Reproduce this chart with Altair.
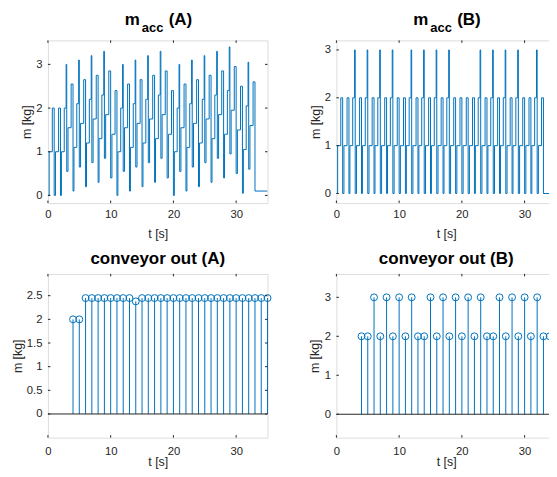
import altair as alt
import pandas as pd

# ---------------- data ----------------
T_DOMAIN = [0, 35]
X_TICKS = [0, 10, 20, 30]

# accumulator (A): levels inside each 1-s interval [k, k+1)
ACC_A_LEVELS = [
    [0, 1, 2], [0, 1, 2], [0, 1, 2, 3], [0.55, 1.55, 2.55], [0.1, 1.1, 2.1, 3.1],
    [0.65, 1.65, 2.65], [0.2, 1.2, 2.2, 3.2], [0.75, 1.75, 2.75], [0.3, 1.3, 2.3, 3.3],
    [0.85, 1.85, 2.85], [0.4, 1.4, 2.4], [0, 1, 2, 3], [0.55, 1.55, 2.55],
    [0.1, 1.1, 2.1, 3.1], [0.65, 1.65, 2.65], [0.2, 1.2, 2.2, 3.2], [0.75, 1.75, 2.75],
    [0.3, 1.3, 2.3, 3.3], [0.85, 1.85, 2.85], [0.4, 1.4, 2.4], [0, 1, 2, 3],
    [0.55, 1.55, 2.55], [0.1, 1.1, 2.1, 3.1], [0.65, 1.65, 2.65], [0.2, 1.2, 2.2, 3.2],
    [0.75, 1.75, 2.75], [0.3, 1.3, 2.3, 3.3], [0.85, 1.85, 2.85], [0.4, 1.4, 2.4, 3.4],
    [0.95, 1.95, 2.95], [0.5, 1.5, 2.5], [0.05, 1.05, 2.05, 3.05], [0.6, 1.6, 2.6],
]
ACC_A_TAIL = 0.1

# accumulator (B): levels inside each 1-s interval
ACC_B_LEVELS = [
    [0, 1, 2], [0, 1, 2], [0, 1, 2, 3], [0, 1, 2], [0, 1, 2, 3], [0, 1, 2],
    [0, 1, 2, 3], [0, 1, 2], [0, 1, 2, 3], [0, 1, 2], [0, 1, 2], [0, 1, 2, 3],
    [0, 1, 2], [0, 1, 2, 3], [0, 1, 2], [0, 1, 2, 3], [0, 1, 2], [0, 1, 2, 3],
    [0, 1, 2], [0, 1, 2], [0, 1, 2], [0, 1, 2], [0, 1, 2, 3], [0, 1, 2],
    [0, 1, 2, 3], [0, 1, 2], [0, 1, 2, 3], [0, 1, 2], [0, 1, 2, 3], [0, 1, 2],
    [0, 1, 2], [0, 1, 2, 3], [0, 1, 2],
]
ACC_B_TAIL = 0

# arrival instants inside a second (2 or 3 items)
STEP_OFFSETS_2 = [0.0, 0.2, 0.7]
STEP_OFFSETS_3 = [0.0, 0.15, 0.6, 0.9]

CONV_T = [4, 5, 6, 7, 8, 9, 10, 11, 12, 13, 14, 15, 16, 17, 18, 19, 20, 21, 22, 23,
          24, 25, 26, 27, 28, 29, 30, 31, 32, 33, 34, 35]
CONV_A = [2, 2, 2.45, 2.45, 2.45, 2.45, 2.45, 2.45, 2.45, 2.45, 2.38, 2.45, 2.45, 2.45,
          2.45, 2.45, 2.45, 2.45, 2.45, 2.45, 2.45, 2.45, 2.45, 2.45, 2.45, 2.45, 2.45,
          2.45, 2.45, 2.45, 2.45, 2.45]
CONV_B = [2, 2, 3, 2, 3, 2, 3, 2, 3, 2, 2, 3, 2, 3, 2, 3, 2, 3, 2, 3, 2, 2, 3, 2, 3, 2,
          3, 2, 3, 2, 2, 3]

Y_TICKS_ACC = [0, 1, 2, 3]
Y_TICKS_CONV_A = [0, 0.5, 1, 1.5, 2, 2.5]
Y_TICKS_CONV_B = [0, 1, 2, 3]

# ---------------- styling ----------------
BLUE = "#0072BD"
AX = "#262626"
FONT = "Liberation Sans"
W = 220
H_TOP = 163
H_BOT = 164
TICK_LEN = 2.5


def step_table(levels_per_second, tail):
    rows = []
    for k, levels in enumerate(levels_per_second):
        offs = STEP_OFFSETS_2 if len(levels) == 3 else STEP_OFFSETS_3
        for off, v in zip(offs, levels):
            rows.append({"t": k + off, "m": v})
    end = len(levels_per_second)
    rows.append({"t": end, "m": tail})
    rows.append({"t": T_DOMAIN[1], "m": tail})
    return pd.DataFrame(rows)


def axes(H, yticks, yfmt, ytitle_x, xlab_pad, xtitle_y):
    xa = alt.Axis(values=X_TICKS, title="t [s]", grid=False, domain=False, ticks=False,
                  tickSize=0, labelFont=FONT, labelFontSize=11.3, labelColor=AX,
                  labelPadding=xlab_pad, labelFlush=False, titleFont=FONT,
                  titleFontSize=12.4, titleFontWeight="normal", titleColor=AX,
                  titleX=W / 2, titleY=xtitle_y, titleBaseline="alphabetic")
    ya = alt.Axis(values=yticks, format=yfmt, title="m [kg]", grid=False, domain=False,
                  ticks=False, tickSize=0, labelFont=FONT, labelFontSize=11.3,
                  labelColor=AX, labelPadding=6, labelFlush=False, titleFont=FONT,
                  titleFontSize=12.4, titleFontWeight="normal", titleColor=AX,
                  titleX=ytitle_x, titleY=H / 2, titleAngle=270, titleBaseline="middle")
    return xa, ya


def tick_layers(H, yticks, xs, ys, xa, ya):
    dx = pd.DataFrame({"t": X_TICKS})
    dy = pd.DataFrame({"m": yticks})
    base_x = alt.Chart(dx).mark_rule(color=AX, strokeWidth=1)
    base_y = alt.Chart(dy).mark_rule(color=AX, strokeWidth=1)
    xe = alt.X("t:Q", scale=xs, axis=xa)
    ye = alt.Y("m:Q", scale=ys, axis=ya)
    return [
        base_x.encode(x=xe, y=alt.value(H), y2=alt.value(H - TICK_LEN)),
        base_x.encode(x=xe, y=alt.value(0), y2=alt.value(TICK_LEN)),
        base_y.encode(y=ye, x=alt.value(0), x2=alt.value(TICK_LEN)),
        base_y.encode(y=ye, x=alt.value(W), x2=alt.value(W - TICK_LEN)),
    ]


def text_layer(txt, x, y, size, align="left"):
    return alt.Chart(pd.DataFrame({"s": [txt]})).mark_text(
        font=FONT, fontSize=size, fontWeight="bold", color="#000000", align=align,
        baseline="alphabetic").encode(text="s:N", x=alt.value(x), y=alt.value(y))


def anchor_layer(x, y):
    # invisible 1px rule that pins an outer corner of the figure bounds
    return alt.Chart(pd.DataFrame({"a": [0]})).mark_rule(opacity=0, strokeWidth=1).encode(
        x=alt.value(x), x2=alt.value(x), y=alt.value(y), y2=alt.value(y + 1))


def acc_title(letter):
    return [text_layer("m", 77, -15, 17), text_layer("acc", 94, -8.8, 13),
            text_layer("(" + letter + ")", 121, -15, 17)]


def acc_panel(levels, tail, ydom, ytitle_x, letter, extra=()):
    xs = alt.Scale(domain=T_DOMAIN, nice=False, zero=False)
    ys = alt.Scale(domain=ydom, nice=False, zero=False)
    xa, ya = axes(H_TOP, Y_TICKS_ACC, "~g", ytitle_x, 5, 34)
    line = alt.Chart(step_table(levels, tail)).mark_line(
        interpolate="step-after", color=BLUE, strokeWidth=1, clip=True).encode(
        x=alt.X("t:Q", scale=xs, axis=xa), y=alt.Y("m:Q", scale=ys, axis=ya))
    return alt.layer(line, *tick_layers(H_TOP, Y_TICKS_ACC, xs, ys, xa, ya),
                     *acc_title(letter), *extra).properties(width=W, height=H_TOP)


def conv_panel(values, ydom, yticks, ytitle_x, letter, clip_pts=False, extra=()):
    xs = alt.Scale(domain=T_DOMAIN, nice=False, zero=False)
    ys = alt.Scale(domain=ydom, nice=False, zero=False)
    xa, ya = axes(H_BOT, yticks, "~g", ytitle_x, 8, 27.5)
    df = pd.DataFrame({"t": CONV_T, "m": values})
    xe = alt.X("t:Q", scale=xs, axis=xa)
    ye = alt.Y("m:Q", scale=ys, axis=ya)
    stems = alt.Chart(df).mark_rule(color=BLUE, strokeWidth=1).encode(
        x=xe, y=ye, y2=alt.datum(0))
    baseline = alt.Chart(pd.DataFrame({"m": [0]})).mark_rule(
        color=AX, strokeWidth=1).encode(y=ye)
    pts = alt.Chart(df).mark_point(shape="circle", filled=False, color=BLUE, size=48,
                                   strokeWidth=1, opacity=1, clip=clip_pts).encode(
        x=xe, y=ye)
    title = text_layer("conveyor out (" + letter + ")", W / 2, -9.5, 17, align="center")
    return alt.layer(stems, baseline, pts, *tick_layers(H_BOT, yticks, xs, ys, xa, ya),
                     title, *extra).properties(width=W, height=H_BOT)


p1 = acc_panel(ACC_A_LEVELS, ACC_A_TAIL, [-0.175, 3.55], -21, "A",
               extra=[anchor_layer(-39, -31)])
p2 = acc_panel(ACC_B_LEVELS, ACC_B_TAIL, [-0.2, 3.2], -20.6, "B")
p3 = conv_panel(CONV_A, [-0.5, 2.96], Y_TICKS_CONV_A, -30.3, "A")
p4 = conv_panel(CONV_B, [-0.6, 3.6], Y_TICKS_CONV_B, -22.3, "B", clip_pts=True,
                extra=[anchor_layer(W + 10, H_BOT + 40)])

# the right panels run off the window edge in the reference: the view is cut there
chart = alt.concat(p1, p2, p3, p4, columns=2, spacing={"row": 71, "column": 69},
                   bounds="flush").properties(
    padding={"left": 0, "top": 0, "right": -18, "bottom": -10}
).configure_view(stroke=AX, strokeWidth=1).configure(font=FONT, background="white")

chart.save("out.html", embed_options={"renderer": "svg", "actions": False})
